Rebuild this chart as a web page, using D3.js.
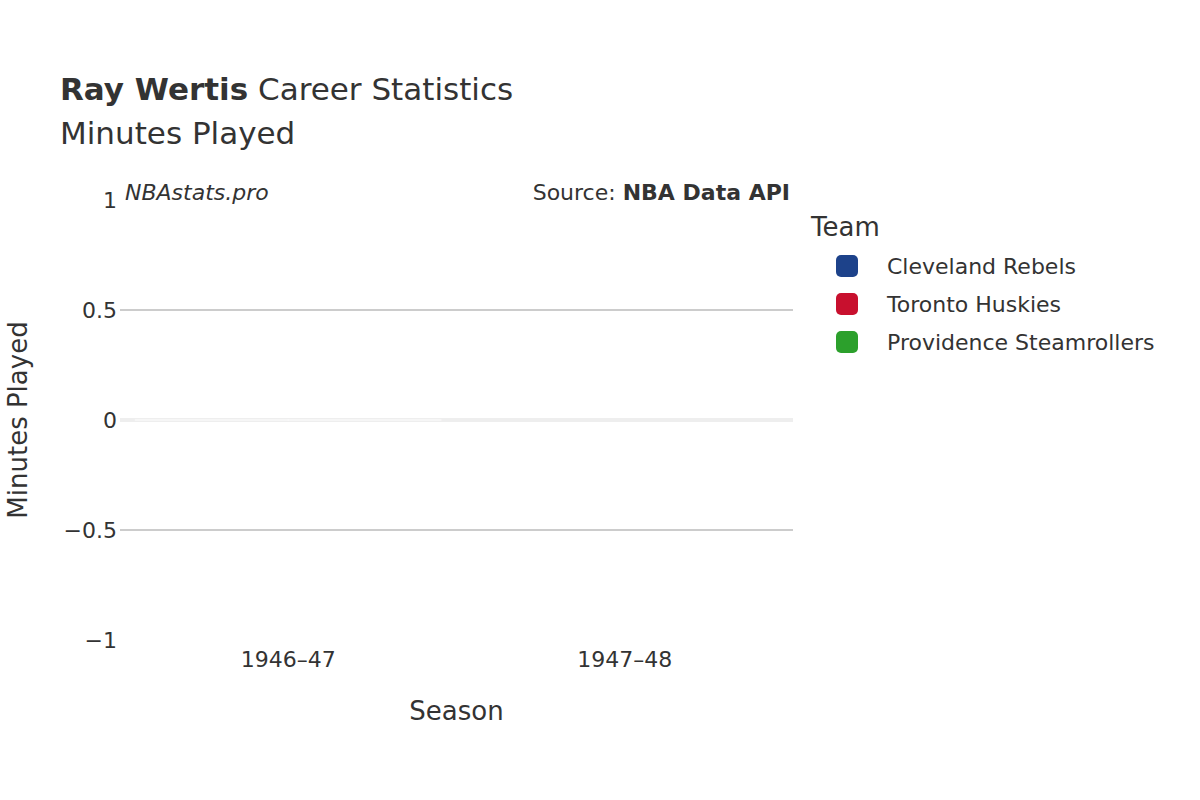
<!DOCTYPE html>
<html>
<head>
<meta charset="utf-8">
<script src="https://cdn.jsdelivr.net/npm/d3@7"></script>
<style>
  body { margin: 0; background: #fff; }
  text { font-family: "DejaVu Sans", sans-serif; fill: #333; }
</style>
</head>
<body>
<div id="chart"></div>
<script>
// data
const seasons = ["1946\u201347", "1947\u201348"];
const teams = ["Cleveland Rebels", "Toronto Huskies", "Providence Steamrollers"];
const teamColors = ["#1d428a", "#c8102e", "#2ca02c"];
const minutes = [
  { season: "1946\u201347", team: "Cleveland Rebels", value: 0 },
  { season: "1946\u201347", team: "Toronto Huskies", value: 0 }
];
const yTicks = [-1, -0.5, 0, 0.5, 1];

const W = 1200, H = 800;
const margin = { top: 200, right: 407, bottom: 160, left: 120 };
const width = W - margin.left - margin.right,
      height = H - margin.top - margin.bottom;

const svg = d3.select("#chart").append("svg")
    .attr("width", W).attr("height", H);

const x = d3.scaleBand().domain(seasons).range([0, width]);
const xInner = d3.scaleBand().domain(teams.slice(0, 2)).range([0, x.bandwidth()]).paddingOuter(0.1);
const y = d3.scaleLinear().domain([-1, 1]).range([height, 0]);

const g = svg.append("g").attr("transform", `translate(${margin.left},${margin.top})`);

// gridlines
g.selectAll(".grid").data(yTicks.filter(d => d !== 0 && Math.abs(d) !== 1))
  .join("line")
  .attr("x1", 0).attr("x2", width)
  .attr("y1", d => y(d)).attr("y2", d => y(d))
  .attr("stroke", "#bbb").attr("stroke-width", 1.5);

g.append("line")
  .attr("x1", 0).attr("x2", width)
  .attr("y1", y(0)).attr("y2", y(0))
  .attr("stroke", "#eee").attr("stroke-width", 4);

// bars (zero height)
g.selectAll(".bar").data(minutes).join("rect")
  .attr("x", d => x(d.season) + xInner(d.team))
  .attr("width", xInner.bandwidth())
  .attr("y", d => Math.min(y(d.value), y(0)) - 0.5)
  .attr("height", d => Math.abs(y(d.value) - y(0)) + 1)
  .attr("fill", d => teamColors[teams.indexOf(d.team)])
  .attr("stroke", "#fff").attr("stroke-width", 1).attr("opacity", 0.5);

// y tick labels
g.selectAll(".ytick").data(yTicks).join("text")
  .attr("x", -3).attr("y", d => y(d)).attr("dy", "0.35em")
  .attr("text-anchor", "end").attr("font-size", 22)
  .text(d => d3.format("")(d).replace("-", "\u2212"));

// x tick labels
g.selectAll(".xtick").data(seasons).join("text")
  .attr("x", d => x(d) + x.bandwidth() / 2).attr("y", height + 27)
  .attr("text-anchor", "middle").attr("font-size", 22)
  .text(d => d);

// axis titles
svg.append("text").attr("x", margin.left + width / 2).attr("y", 720)
  .attr("text-anchor", "middle").attr("font-size", 26).text("Season");
svg.append("text").attr("transform", "translate(27,420) rotate(-90)")
  .attr("text-anchor", "middle").attr("font-size", 26).text("Minutes Played");

// titles
const t = svg.append("text").attr("x", 60).attr("y", 100).attr("font-size", 31);
t.append("tspan").attr("font-weight", "bold").text("Ray Wertis");
t.append("tspan").text(" Career Statistics");
svg.append("text").attr("x", 60).attr("y", 144).attr("font-size", 31).text("Minutes Played");

svg.append("text").attr("x", 125).attr("y", 200).attr("font-size", 22)
  .attr("font-style", "italic").text("NBAstats.pro");
const s = svg.append("text").attr("x", 790).attr("y", 200).attr("font-size", 22)
  .attr("text-anchor", "end");
s.append("tspan").text("Source: ");
s.append("tspan").attr("font-weight", "bold").text("NBA Data API");

// legend
svg.append("text").attr("x", 811).attr("y", 236).attr("font-size", 26).text("Team");
const lg = svg.selectAll(".leg").data(teams).join("g")
  .attr("transform", (d, i) => `translate(836,${266 + i * 38})`);
lg.append("rect").attr("x", 0).attr("y", -11).attr("width", 22).attr("height", 22)
  .attr("rx", 5).attr("fill", (d, i) => teamColors[i]);
lg.append("text").attr("x", 51).attr("dy", "0.35em").attr("font-size", 22).text(d => d);
</script>
</body>
</html>
